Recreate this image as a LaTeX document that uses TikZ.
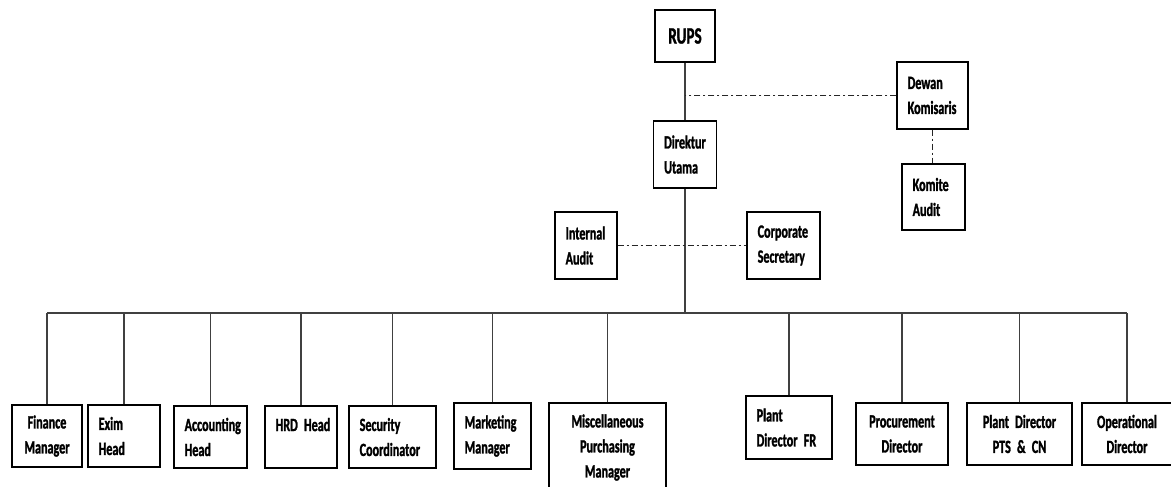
\documentclass[tikz,border=0pt]{standalone}
\usepackage{fontspec}
\newfontfamily\orgfont{Carlito}[FakeStretch=0.65, FakeBold=1.4]
\newcommand\orgtext{\orgfont\bfseries\fontsize{14}{18.75}\selectfont\spaceskip=2.4pt plus 0pt\relax}
\tikzset{
  orgbox/.style 2 args={draw, line width=0.8pt, inner xsep=8pt, inner ysep=2pt,
    text width=#1pt, minimum height=#2pt, align=left, font=\orgtext},
  mid/.style={align=center},
  link/.style={draw=black!75, line width=0.8pt},
  dashdot/.style={draw=black!85, line width=0.6pt,
    dash pattern=on 4.5pt off 2.25pt on 1.5pt off 2.25pt}
}
\begin{document}
\begin{tikzpicture}[x=0.75pt, y=-0.75pt]
      \useasboundingbox (0,0) rectangle (1171,486);
      \draw
        (685,36) node[orgbox={29}{39}, mid, font=\orgfont\bfseries\fontsize{17.5}{18}\selectfont] (rups){RUPS}
        (932.5,95.5) node[orgbox={37.25}{50.25}] (dewan){Dewan\\Komisaris}
        (685,154.5) node[orgbox={31.25}{50.25}] (direktur){Direktur\\Utama}
        (933.5,197) node[orgbox={31.25}{49.5}] (komite){Komite\\Audit}
        (586,245.5) node[orgbox={30.5}{50.25}] (internal){Internal\\Audit}
        (783.5,245.5) node[orgbox={38.75}{50.25}] (corpsec){Corporate\\Secretary}
        (47,436) node[orgbox={36.5}{46.5}, mid] (finance){Finance\\Manager}
        (124,436) node[orgbox={38}{46.5}] (exim){Exim\\Head}
        (210.5,437) node[orgbox={38.75}{46.5}] (accounting){Accounting\\Head}
        (301,437) node[orgbox={38}{46.5}] (hrd){HRD~Head\\\mbox{}}
        (392.5,437) node[orgbox={49.25}{46.5}] (security){Security\\Coordinator}
        (492.5,436) node[orgbox={41.75}{49.5}] (marketing){Marketing\\Manager}
        (607.5,447.5) node[orgbox={71.75}{66.75}, mid] (misc){Miscellaneous\\Purchasing\\Manager}
        (789,427.5) node[orgbox={48.5}{47.25}] (plantfr){Plant\\Director FR}
        (902,434) node[orgbox={53}{46.5}, mid] (procurement){Procurement\\Director}
        (1019.5,434) node[orgbox={62.75}{46.5}, mid] (plantpts){Plant Director\\PTS \& CN}
        (1127,434) node[orgbox={51.5}{46.5}, mid] (operational){Operational\\Director};
      \coordinate (bus) at (685,313);
      \begin{scope}[-]
        \draw[link] (rups) to (direktur);
        \draw[link] (direktur) to (bus);
        \draw[link] (finance.north |- bus) to (operational.north |- bus);
        \foreach \unit in {finance,exim,accounting,hrd,security,marketing,misc,plantfr,procurement,plantpts,operational}
          \draw[link] (\unit.north) to (\unit.north |- bus);
        \draw[dashdot] (dewan.west) to (dewan.west -| rups.south);
        \draw[dashdot] (dewan.south) to (dewan.south |- komite.north);
        \draw[dashdot] (internal) to (corpsec);
      \end{scope}
    \end{tikzpicture}
\end{document}
